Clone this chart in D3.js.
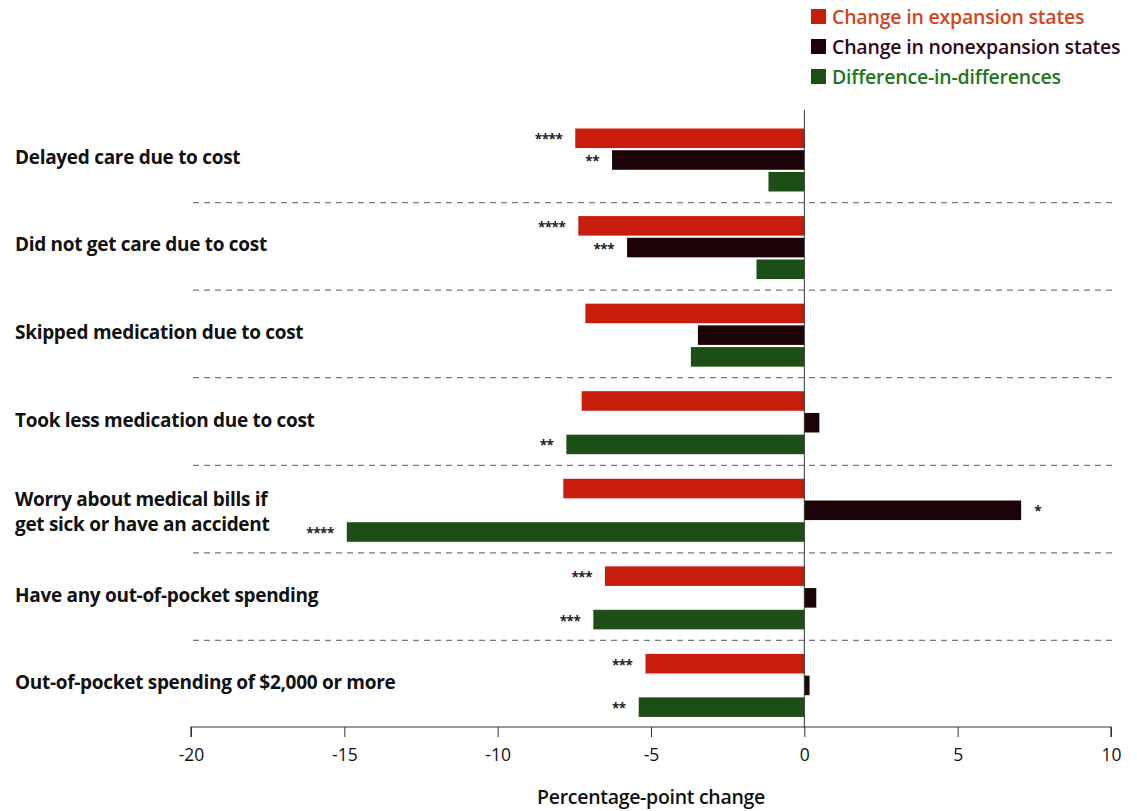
<!DOCTYPE html>
<html>
<head>
<meta charset="utf-8">
<script src="https://cdn.jsdelivr.net/npm/d3@7"></script>
<style>
  html, body { margin: 0; padding: 0; background: #fff; }
  svg { display: block; }
</style>
</head>
<body>
<svg id="chart" width="1137" height="811"></svg>
<script>
// ---- data ----
const categories = [
  ["Delayed care due to cost"],
  ["Did not get care due to cost"],
  ["Skipped medication due to cost"],
  ["Took less medication due to cost"],
  ["Worry about medical bills if", "get sick or have an accident"],
  ["Have any out-of-pocket spending"],
  ["Out-of-pocket spending of $2,000 or more"]
];
const seriesNames = ["Change in expansion states", "Change in nonexpansion states", "Difference-in-differences"];
const expansion    = [-7.47, -7.37, -7.14, -7.26, -7.86, -6.50, -5.18];
const nonexpansion = [-6.27, -5.78, -3.47,  0.49,  7.07,  0.39,  0.17];
const did          = [-1.17, -1.56, -3.70, -7.76, -14.92, -6.88, -5.40];
const starsExpansion    = ["****", "****", "", "", "", "***", "***"];
const starsNonexpansion = ["**", "***", "", "", "*", "", ""];
const starsDid          = ["", "", "", "**", "****", "***", "**"];
const xTicks = [-20, -15, -10, -5, 0, 5, 10];
const axisTitle = "Percentage-point change";

// ---- styles ----
const barColors  = ["#c81d0c", "#1c0307", "#1c4f16"];
const textColors = ["#d2461c", "#2e0a1c", "#1f761c"];
const fontFamily = "'Open Sans', 'Noto Sans', sans-serif";

const svg = d3.select("#chart");
const x = d3.scaleLinear().domain([-20, 10]).range([191, 1111]);
const rowIdx = d3.range(categories.length);
const y = d3.scaleBand().domain(rowIdx).range([115, 728]);
const sub = d3.scaleBand().domain([0, 1, 2]).range([13.5, 76.5]).paddingInner(0.1);

const values = [expansion, nonexpansion, did];
const stars = [starsExpansion, starsNonexpansion, starsDid];

// separators
svg.append("g").selectAll("line")
  .data(rowIdx.slice(1))
  .join("line")
  .attr("x1", 193).attr("x2", 1116)
  .attr("y1", d => y(d)).attr("y2", d => y(d))
  .attr("stroke", "#7a7a7a").attr("stroke-width", 1.3)
  .attr("stroke-dasharray", "6,5");

// bars
const flat = [];
rowIdx.forEach(i => values.forEach((arr, s) => flat.push({ i, s, v: arr[i], star: stars[s][i] })));

svg.append("g").selectAll("rect")
  .data(flat)
  .join("rect")
  .attr("x", d => Math.min(x(0), x(d.v)))
  .attr("width", d => Math.abs(x(d.v) - x(0)))
  .attr("y", d => y(d.i) + sub(d.s))
  .attr("height", sub.bandwidth())
  .attr("fill", d => barColors[d.s]);

// significance stars
svg.append("g").selectAll("text")
  .data(flat.filter(d => d.star))
  .join("text")
  .attr("x", d => d.v < 0 ? x(d.v) - 13 : x(d.v) + 13)
  .attr("y", d => y(d.i) + sub(d.s) + sub.bandwidth() / 2 + 6)
  .attr("text-anchor", d => d.v < 0 ? "end" : "start")
  .attr("font-family", fontFamily)
  .attr("font-size", 13.5)
  .attr("font-weight", 700)
  .attr("fill", "#222")
  .attr("letter-spacing", -0.5)
  .text(d => d.star);

// zero line
svg.append("line")
  .attr("x1", x(0)).attr("x2", x(0))
  .attr("y1", 110).attr("y2", 728)
  .attr("stroke", "#333").attr("stroke-width", 1);

// category labels
const lab = svg.append("g").selectAll("text")
  .data(rowIdx)
  .join("text")
  .attr("font-family", fontFamily)
  .attr("font-size", 19)
  .attr("font-weight", 700)
  .attr("fill", "#111")
  .attr("letter-spacing", -0.3);
lab.each(function(i) {
  const lines = categories[i];
  const cy = y(i) + y.bandwidth() / 2;
  const t = d3.select(this);
  lines.forEach((ln, k) => {
    t.append("tspan")
      .attr("x", 15)
      .attr("y", cy + 5 + (k - (lines.length - 1) / 2) * 25 + (lines.length > 1 ? 4 : 0))
      .text(ln);
  });
});

// x axis
const axis = d3.axisBottom(x).tickValues(xTicks).tickSize(10).tickPadding(12)
  .tickFormat(d => String(d).replace("\u2212", "-"));
const gx = svg.append("g").attr("transform", "translate(0,727)").call(axis);
gx.select(".domain").attr("stroke", "#333").attr("stroke-width", 1.2)
  .attr("d", `M${x(-20)},10V0H${x(10)}V10`);
gx.selectAll(".tick line").attr("stroke", "#333").attr("stroke-width", 1);
gx.selectAll(".tick text")
  .attr("font-family", fontFamily).attr("font-size", 17.5).attr("fill", "#111");

svg.append("text")
  .attr("x", (x(-20) + x(10)) / 2).attr("y", 804)
  .attr("text-anchor", "middle")
  .attr("font-family", fontFamily).attr("font-size", 19.5).attr("font-weight", 600)
  .attr("fill", "#111").attr("letter-spacing", -0.3)
  .text(axisTitle);

// legend
const lg = svg.append("g").selectAll("g")
  .data(seriesNames)
  .join("g")
  .attr("transform", (d, k) => `translate(811, ${9 + k * 30})`);
lg.append("rect").attr("width", 15).attr("height", 15)
  .attr("fill", (d, k) => barColors[k]);
lg.append("text").attr("x", 21).attr("y", 15)
  .attr("font-family", fontFamily).attr("font-size", 19.5).attr("font-weight", 600)
  .attr("fill", (d, k) => textColors[k])
  .attr("letter-spacing", -0.2)
  .text(d => d);
</script>
</body>
</html>
